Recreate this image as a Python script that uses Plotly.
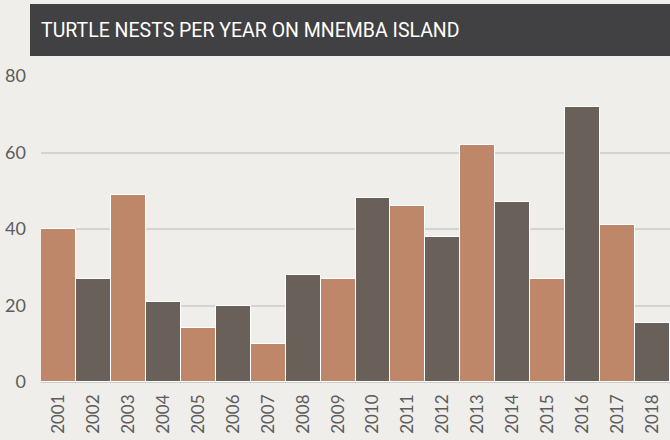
import plotly.graph_objects as go

years = [str(y) for y in range(2001, 2019)]
nests = [40, 27, 49, 21, 14, 20, 10, 28, 27, 48, 46, 38, 62, 47, 27, 72, 41, 15.5]
colors_cycle = ["#bf876a", "#686059"]
bar_colors = [colors_cycle[i % 2] for i in range(len(years))]
title_text = "TURTLE NESTS PER YEAR ON MNEMBA ISLAND"
y_ticks = [0, 20, 40, 60, 80]

L, R, T, B = 41, 0, 76, 58
W, H = 670, 440
pw, ph = W - L - R, H - T - B

def px_x(px):
    return (px - L) / pw

def px_y(py):
    return (H - B - py) / ph

fig = go.Figure(go.Bar(
    x=years, y=nests,
    marker=dict(color=bar_colors, line=dict(color="white", width=1)),
    hoverinfo="skip",
))

fig.update_layout(
    width=W, height=H,
    margin=dict(l=L, r=R, t=T, b=B, pad=0),
    paper_bgcolor="#efeeeb", plot_bgcolor="#efeeeb",
    bargap=0,
    showlegend=False,
    font=dict(family="Lato", color="#5a5a5a"),
    xaxis=dict(
        type="category", tickangle=-90, tickfont=dict(family="Lato", size=17, color="#5c5c5c"),
        showgrid=False, zeroline=False, showline=False, ticks="",
        ticklabelstandoff=8,
    ),
    yaxis=dict(
        range=[0, 80], tickvals=y_ticks, tickfont=dict(family="Lato", size=18, color="#5c5c5c"),
        showgrid=True, gridcolor="#d5d3cf", gridwidth=1.5,
        zeroline=True, zerolinecolor="#d0cecb", zerolinewidth=2,
        showline=False, ticks="", ticklabelstandoff=14,
    ),
    shapes=[dict(
        type="rect", xref="paper", yref="paper",
        x0=px_x(30), x1=px_x(W), y0=px_y(56), y1=px_y(4),
        fillcolor="#414042", line=dict(width=0), layer="above",
    )],
    annotations=[dict(
        text=title_text, xref="paper", yref="paper",
        x=px_x(39), y=px_y(30), xanchor="left", yanchor="middle",
        showarrow=False,
        font=dict(family="Roboto", size=19.5, color="white"),
    )],
)

fig.write_html("out.html")
